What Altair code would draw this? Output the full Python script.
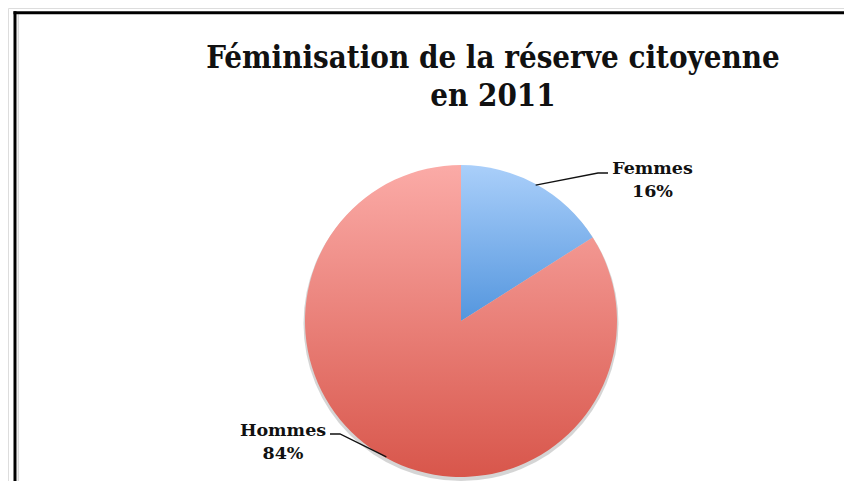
import math
import altair as alt
import pandas as pd

# ---- data ----
categories = ["Femmes", "Hommes"]
values = [16, 84]
pct_labels = ["16%", "84%"]
title_lines = ["Féminisation de la réserve citoyenne", "en 2011"]

W, H = 836, 473
CX, CY, R = 453, 313, 156

df = pd.DataFrame({"cat": categories, "value": values, "order": [0, 1]})

stacked = alt.Chart(df).transform_stack(
    stack="value", groupby=[], as_=["v0", "v1"], sort=[alt.SortField("order")]
)

theta_scale = alt.Scale(domain=[0, sum(values)], range=[0, 2 * math.pi])

grad_blue = alt.Gradient(
    gradient="linear",
    stops=[alt.GradientStop(color="#AACFFA", offset=0), alt.GradientStop(color="#5496DE", offset=1)],
    x1=0, x2=0, y1=0, y2=1,
)
grad_red = alt.Gradient(
    gradient="linear",
    stops=[alt.GradientStop(color="#FBABA7", offset=0), alt.GradientStop(color="#D8564B", offset=1)],
    x1=0, x2=0, y1=0, y2=1,
)

def wedge(cat, fill):
    return stacked.transform_filter(alt.datum.cat == cat).mark_arc(
        fill=fill, radius=R, strokeWidth=0
    ).encode(
        theta=alt.Theta("v0:Q", scale=theta_scale),
        theta2="v1:Q",
        x=alt.value(CX),
        y=alt.value(CY),
    )

shadow = stacked.transform_filter(alt.datum.cat == "Hommes").mark_arc(
    fill="#888888", radius=R + 1.5, opacity=0.35, theta=0, theta2=2 * math.pi
).encode(x=alt.value(CX), y=alt.value(CY + 2.5))

pie = shadow + wedge("Femmes", grad_blue) + wedge("Hommes", grad_red)

# ---- labels and leader lines (anchors derived from wedge mid-angles) ----
cum = 0
lab_rows, line_rows = [], []
label_pos = {"Femmes": (644.5, 166), "Hommes": (275, 428)}
bend = {"Femmes": [(590, 165), (600, 165)], "Hommes": [(332, 426), (322, 426)]}
for c, v, p in zip(categories, values, pct_labels):
    mid = (cum + v / 2) / sum(values) * 2 * math.pi
    cum += v
    ax = CX + (R - 1) * math.sin(mid)
    ay = CY - (R - 1) * math.cos(mid)
    lx, ly = label_pos[c]
    lab_rows.append({"cat": c, "x": lx, "y": ly, "txt": [c, p]})
    pts = [(ax, ay)] + bend[c]
    for i, (px, py) in enumerate(pts):
        line_rows.append({"cat": c, "i": i, "x": px, "y": py})

lab_df = pd.DataFrame(lab_rows)
line_df = pd.DataFrame(line_rows)

leaders = alt.Chart(line_df).mark_line(color="#111111", strokeWidth=1.3).encode(
    x=alt.X("x:Q", scale=None), y=alt.Y("y:Q", scale=None), detail="cat:N", order="i:Q"
)

labels = alt.Chart(lab_df).mark_text(
    font="DejaVu Serif", fontWeight="bold", fontSize=17.5, color="#111111",
    align="center", baseline="alphabetic", lineHeight=23,
).encode(x=alt.X("x:Q", scale=None), y=alt.Y("y:Q", scale=None), text="txt")

title_df = pd.DataFrame({"t": [title_lines]})
title = alt.Chart(title_df).mark_text(
    font="DejaVu Serif Condensed", fontWeight="bold", fontSize=31, color="#111111",
    align="center", baseline="alphabetic", lineHeight=38,
).encode(x=alt.value(485), y=alt.value(60), text="t")

# ---- frame ----
frame_top = alt.Chart(title_df).mark_rule(color="black", strokeWidth=3).encode(
    x=alt.value(5.5), x2=alt.value(W), y=alt.value(4.8)
)
frame_left = alt.Chart(title_df).mark_rule(color="black", strokeWidth=3).encode(
    x=alt.value(7), y=alt.value(3.3), y2=alt.value(H)
)
frame_inner = alt.Chart(title_df).mark_rule(color="#d8d8d8", strokeWidth=1.5).encode(
    x=alt.value(10.3), y=alt.value(6.3), y2=alt.value(H)
)

chart = alt.layer(
    frame_inner, frame_top, frame_left, pie, leaders, labels, title
).properties(
    width=W, height=H, padding=0, autosize=alt.AutoSizeParams(type="none")
).configure_view(stroke=None).configure(background="white")

chart.save("out.html", embed_options={"renderer": "svg", "actions": False})
